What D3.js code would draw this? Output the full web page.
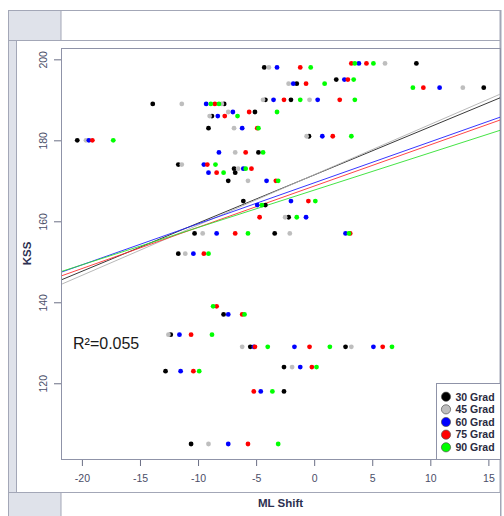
<!DOCTYPE html>
<html>
<head>
<meta charset="utf-8">
<script src="https://cdn.jsdelivr.net/npm/d3@7"></script>
<style>
  body { margin: 0; background: #fff; }
  svg { display: block; font-family: "Liberation Sans", Arial, sans-serif; }
</style>
</head>
<body>
<svg width="504" height="516"></svg>
<script>
// points: [ML Shift, KSS]
const grad30 = [[-4.3,198],[-1.5,194],[-4.2,190],[-2.0,190],[-13.9,189],[-7.75,189],[-5.1,187],[-8.8,186],
  [-9.1,183],[-0.45,181],[-20.4,180],[-4.8,177],[-11.7,174],[-6.9,173],[-6.8,172],[-7.4,170],[-6.1,165],
  [-4.2,164],[-2.2,161],[-10.3,157],[-3.4,157],[-11.7,152],[-7.8,137],[-12.35,132],[-5.5,129],[2.7,129],
  [-2.6,124],[-12.8,123],[-2.6,118],[-10.6,105],[8.8,199],[1.9,195],[14.6,193]];
const grad45 = [[-3.9,198],[-2.2,194],[-4.4,190],[-0.4,190],[-11.4,189],[-7.95,189],[-7.4,187],[-9.0,186],
  [-6.9,183],[-0.65,181],[-19.65,180],[-6.8,177],[-11.4,174],[-6.55,173],[-5.7,170],[-2.5,161],[-9.6,157],
  [-2.1,157],[-11.1,152],[-12.55,132],[-6.2,129],[3.2,129],[-1.9,124],[-9.1,105],[6.1,199],[12.8,193]];
const grad60 = [[-3.2,198],[-1.8,194],[-3.5,190],[0.3,190],[-9.3,189],[-7.0,187],[-8.3,186],[-6.2,183],
  [0.7,181],[-19.4,180],[-8.2,177],[-9.5,174],[-6.1,173],[-9.1,172],[-4.1,170],[-2.0,165],[-4.9,164],
  [-0.7,161],[-8.4,157],[2.7,157],[-10.4,152],[-7.4,137],[-11.6,132],[-5.2,129],[-1.7,129],[5.1,129],
  [-1.2,124],[-11.5,123],[-4.6,118],[-7.4,105],[3.85,199],[2.6,195],[10.8,193]];
const grad75 = [[-1.2,198],[-0.7,194],[-2.6,190],[2.2,190],[-8.55,189],[-5.6,187],[-7.7,186],[-4.9,183],
  [1.6,181],[-19.1,180],[-5.9,177],[-9.2,174],[-5.4,173],[-8.4,172],[-3.3,170],[-0.5,165],[-4.7,161],
  [-6.8,157],[3.1,157],[-9.5,152],[-8.4,139],[-6.2,137],[-10.6,132],[-5.1,129],[-0.4,129],[5.9,129],
  [-0.2,124],[-10.4,123],[-5.2,118],[-5.7,105],[3.2,199],[4.5,199],[2.9,195],[9.4,193]];
const grad90 = [[-0.3,198],[0.9,194],[-1.2,190],[3.5,190],[-8.9,189],[-8.2,189],[-3.2,187],[-6.6,186],
  [-4.8,183],[3.2,181],[-17.3,180],[-4.4,177],[-8.5,174],[-5.9,173],[-7.8,172],[-3.1,170],[0.1,165],
  [-4.5,164],[-1.5,161],[-5.7,157],[3.0,157],[-9.1,152],[-8.7,139],[-6.0,137],[-8.8,132],[-4.0,129],
  [1.35,129],[6.7,129],[0.2,124],[-9.9,123],[-3.6,118],[-3.1,105],[3.5,199],[5.1,199],[3.4,195],[8.5,193]];

const seriesNames = ['30 Grad', '45 Grad', '60 Grad', '75 Grad', '90 Grad'];
const seriesColors = ['#000000', '#bebebe', '#0000ff', '#ff0000', '#00ff00'];
const lineColors = ['#222222', '#b0b0b0', '#2020ff', '#ff3030', '#30e030'];
// fitted lines: KSS = a + b * shift
const fitIntercept = [171.45, 171.5, 169.5, 168.7, 167.7];
const fitSlope = [1.19, 1.243, 1.013, 1.019, 0.923];
const xTicks = [-20, -15, -10, -5, 0, 5, 10, 15];
const yTicks = [120, 140, 160, 180, 200];
const rsqLabel = 'R²=0.055';

const svg = d3.select('svg');
const frameFill = '#dfe2ea', frameStroke = '#a3a7b7';
const L = 61, R = 500, T = 48, B = 459;

// outer frame
svg.append('rect').attr('x', 8.5).attr('y', 10.5).attr('width', 492).attr('height', 30)
  .attr('fill', '#fff').attr('stroke', frameStroke);
svg.append('rect').attr('x', 8.5).attr('y', 10.5).attr('width', 52.5).attr('height', 30)
  .attr('fill', frameFill).attr('stroke', frameStroke);
svg.append('rect').attr('x', 8.5).attr('y', 40.5).attr('width', 8).attr('height', 452)
  .attr('fill', frameFill).attr('stroke', frameStroke);
svg.append('line').attr('x1', 500.5).attr('x2', 500.5).attr('y1', 10).attr('y2', 516)
  .attr('stroke', frameStroke).attr('stroke-width', 2);
svg.append('rect').attr('x', 8.5).attr('y', 492.5).attr('width', 492).attr('height', 30)
  .attr('fill', '#fff').attr('stroke', frameStroke);
svg.append('rect').attr('x', 8.5).attr('y', 492.5).attr('width', 52.5).attr('height', 30)
  .attr('fill', frameFill).attr('stroke', frameStroke);

const x = d3.scaleLinear().domain([-21.8, 16]).range([L, R]);
const y = d3.scaleLinear().domain([101.3, 202.8]).range([B, T]);

svg.append('defs').append('clipPath').attr('id', 'clip')
  .append('rect').attr('x', L).attr('y', T).attr('width', R - L).attr('height', B - T);

// axes (plain hyphen for negatives, like the original)
const fmt = d => String(d);
const xAxis = svg.append('g').attr('transform', `translate(0,${B})`)
  .call(d3.axisBottom(x).tickValues(xTicks).tickFormat(fmt).tickSize(7).tickPadding(9).tickSizeOuter(0));
const yAxis = svg.append('g').attr('transform', `translate(${L},0)`)
  .call(d3.axisLeft(y).tickValues(yTicks).tickFormat(fmt).tickSize(7).tickSizeOuter(0));
[xAxis, yAxis].forEach(g => {
  g.select('.domain').remove();
  g.selectAll('line').attr('stroke', '#6b6f85');
  g.selectAll('text').attr('fill', '#4a4e68').style('font-size', '10.5px')
    .style('font-family', '"Liberation Sans", Arial, sans-serif');
});
yAxis.selectAll('text')
  .attr('x', null).attr('dy', null)
  .attr('text-anchor', 'middle')
  .attr('transform', 'translate(-14,0) rotate(-90)');

svg.append('text').attr('x', (L + R) / 2).attr('y', 507).attr('text-anchor', 'middle')
  .attr('font-weight', 'bold').attr('font-size', 11.5).attr('fill', '#2c3050').text('ML Shift');
svg.append('text').attr('transform', `translate(31,${(T + B) / 2}) rotate(-90)`)
  .attr('text-anchor', 'middle').attr('font-weight', 'bold').attr('font-size', 11.5)
  .attr('fill', '#2c3050').text('KSS');

// regression lines
const plot = svg.append('g').attr('clip-path', 'url(#clip)');
const dom = x.domain();
plot.selectAll('line.fit').data(fitIntercept).join('line')
  .attr('class', 'fit')
  .attr('x1', x(dom[0])).attr('x2', x(dom[1]))
  .attr('y1', (a, i) => y(a + fitSlope[i] * dom[0]))
  .attr('y2', (a, i) => y(a + fitSlope[i] * dom[1]))
  .attr('stroke', (a, i) => lineColors[i]).attr('stroke-width', 0.9);

// points
[grad30, grad45, grad60, grad75, grad90].forEach((pts, i) => {
  plot.append('g').selectAll('circle').data(pts).join('circle')
    .attr('cx', d => x(d[0])).attr('cy', d => y(d[1])).attr('r', 2.4)
    .attr('fill', seriesColors[i]);
});

// plot box
svg.append('rect').attr('x', L + 0.5).attr('y', T + 0.5).attr('width', R - L).attr('height', B - T)
  .attr('fill', 'none').attr('stroke', '#8f93a8');

svg.append('text').attr('x', 73).attr('y', 349).attr('font-size', 16).attr('fill', '#1a1a1a')
  .text(rsqLabel);

// legend
const leg = svg.append('g');
leg.append('rect').attr('x', 436.5).attr('y', 383.5).attr('width', 64).attr('height', 76)
  .attr('fill', '#fff').attr('stroke', '#8f93a8');
seriesNames.forEach((name, i) => {
  const cy = 396.7 + i * 12.65;
  leg.append('circle').attr('cx', 446).attr('cy', cy).attr('r', 4.6)
    .attr('fill', seriesColors[i]).attr('stroke', '#555').attr('stroke-width', 0.7);
  leg.append('text').attr('x', 455.5).attr('y', cy + 3.8).attr('font-size', 10.5)
    .attr('font-weight', 'bold').attr('fill', '#2a2a40').text(name);
});
</script>
</body>
</html>
